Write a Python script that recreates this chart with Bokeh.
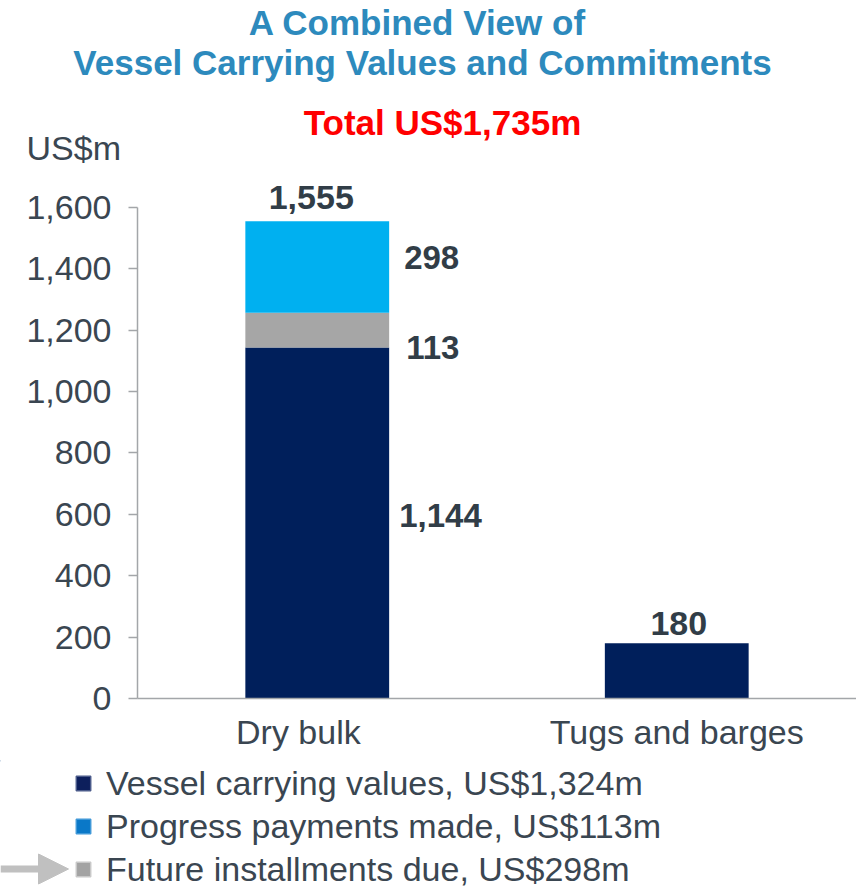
from bokeh.plotting import figure
from bokeh.layouts import column
from bokeh.models import (ColumnDataSource, FactorRange, Range1d, FixedTicker,
                          Legend, LegendItem, Arrow, NormalHead, NumeralTickFormatter,
                          CustomJSTickFormatter)
from bokeh.transform import dodge
from bokeh.core.properties import value
from bokeh.embed import file_html
from bokeh.resources import INLINE

# ---------------- data ----------------
categories = ["Dry bulk", "Tugs and barges"]
carrying_values = [1144, 180]
progress_payments = [113, 0]
future_installments = [298, 0]
y_ticks = [0, 200, 400, 600, 800, 1000, 1200, 1400, 1600]
legend_labels = ["Vessel carrying values, US$1,324m",
                 "Progress payments made, US$113m",
                 "Future installments due, US$298m"]
title_lines = ["A Combined View of", "Vessel Carrying Values and Commitments"]
subtitle = "Total US$1,735m"
unit_label = "US$m"

# ---------------- styles ----------------
FONT = "Liberation Sans"
NAVY = "#001F5B"
LIGHT_BLUE = "#00B0F0"
GRAY = "#A6A6A6"
TEXT = "#3A4651"
LABEL = "#313D47"
TITLE_BLUE = "#2D8ABD"
AXIS = "#A3A6A9"
W = 856


def bare(height):
    f = figure(width=W, height=height, x_range=Range1d(0, W), y_range=Range1d(height, 0),
               output_backend="svg", toolbar_location=None,
               x_axis_location=None, y_axis_location=None,
               min_border=0, min_border_left=0, min_border_right=0,
               min_border_top=0, min_border_bottom=0, frame_align=False)
    f.outline_line_color = None
    f.xgrid.visible = False
    f.ygrid.visible = False
    return f


# ---------------- title block ----------------
TH = 175
pt = bare(TH)
pt.text(x=[417], y=[21.5], text=[title_lines[0]], text_align="center", text_baseline="middle",
        text_font=value(FONT), text_font_size="35px", text_font_style="bold", text_color=TITLE_BLUE)
pt.text(x=[422], y=[61.5], text=[title_lines[1]], text_align="center", text_baseline="middle",
        text_font=value(FONT), text_font_size="35px", text_font_style="bold", text_color=TITLE_BLUE)
pt.text(x=[442], y=[122], text=[subtitle], text_align="center", text_baseline="middle",
        text_font=value(FONT), text_font_size="35px", text_font_style="bold", text_color="#FF0000")
pt.text(x=[26], y=[147.5], text=[unit_label], text_align="left", text_baseline="middle",
        text_font=value(FONT), text_font_size="34px", text_color=TEXT)

# ---------------- main chart ----------------
totals = [c + p + f for c, p, f in zip(carrying_values, progress_payments, future_installments)]
src = ColumnDataSource(dict(cat=categories, carrying=carrying_values,
                            progress=progress_payments, future=future_installments))

MH = 585
p = figure(width=W, height=MH, x_range=FactorRange(*categories),
           y_range=Range1d(0, 1704), output_backend="svg", toolbar_location=None,
           min_border_left=137, min_border_right=0, min_border_top=0, min_border_bottom=62,
           frame_align=False)
p.outline_line_color = None
p.xgrid.visible = False
p.ygrid.visible = False

p.vbar_stack(["carrying", "progress", "future"], x="cat", width=0.4,
             color=[NAVY, GRAY, LIGHT_BLUE], line_color=None, source=src)

ya = p.yaxis[0]
ya.ticker = FixedTicker(ticks=y_ticks)
ya.bounds = (0, 1600)
ya.formatter = NumeralTickFormatter(format="0,0")
ya.major_label_text_font = FONT
ya.major_label_text_font_size = "34px"
ya.major_label_text_color = TEXT
ya.axis_line_color = AXIS
ya.axis_line_width = 1.5
ya.major_tick_line_color = AXIS
ya.major_tick_line_width = 1.5
ya.major_tick_in = 0
ya.major_tick_out = 9
ya.minor_tick_line_color = None
ya.major_label_standoff = 17

xa = p.xaxis[0]
xa.major_label_text_font = FONT
xa.major_label_text_font_size = "34px"
xa.major_label_text_color = TEXT
xa.axis_line_color = AXIS
xa.axis_line_width = 1.5
xa.major_tick_line_color = None
xa.major_tick_in = 0
xa.major_tick_out = 0
xa.major_label_standoff = 14
# trailing padding shifts the first category label left, as in the original slide
xa.formatter = CustomJSTickFormatter(
    args=dict(first=categories[0]),
    code="return tick == first ? tick + '\\u00a0\\u00a0\\u00a0\\u00a0\\u200b' : tick;")

tot_src = ColumnDataSource(dict(cat=categories, y=totals, txt=[f"{t:,}" for t in totals],
                                xo=[-6, 2], yo=[-24, -20]))
p.text(x="cat", y="y", text="txt", source=tot_src, text_align="center",
       text_baseline="middle", x_offset="xo", y_offset="yo", text_font=value(FONT),
       text_font_size="34px", text_font_style="bold", text_color=LABEL)

seg_vals = [carrying_values[0], progress_payments[0], future_installments[0]]
bottoms = [0, carrying_values[0], carrying_values[0] + progress_payments[0]]
seg_src = ColumnDataSource(dict(
    cat=[categories[0]] * 3,
    y=[b + v / 2 for b, v in zip(bottoms, seg_vals)],
    txt=[f"{v:,}" for v in seg_vals],
    xo=[10, 17, 15],
    yo=[-7, 17, -9],
))
p.text(x=dodge("cat", 0.2, range=p.x_range), y="y", text="txt", source=seg_src,
       text_align="left", text_baseline="middle", x_offset="xo", y_offset="yo",
       text_font=value(FONT), text_font_size="33px", text_font_style="bold",
       text_color=LABEL)

# ---------------- legend block ----------------
LH = 891 - TH - MH
pl = bare(LH)
swatch_fill = ["#0D1F5C", "#0A78C8", "#A3A3A3"]
swatch_line = ["#4A5A8A", "#3F98D8", "#C8C8C8"]
items = []
for lab, fc, lc in zip(legend_labels, swatch_fill, swatch_line):
    # swatch-only renderer, kept outside the visible range
    r = pl.vbar(x=[-100], top=[0], bottom=[0], width=1, fill_color=fc, line_color=lc,
                line_width=1.5)
    items.append(LegendItem(label=lab, renderers=[r]))
leg = Legend(items=items, location=(74, 1), orientation="vertical",
             glyph_width=18, glyph_height=18, label_height=42, spacing=1,
             label_standoff=14, padding=0, margin=0, border_line_color=None,
             background_fill_alpha=0, label_text_font=FONT,
             label_text_font_size="34px", label_text_color=TEXT)
pl.add_layout(leg, "center")
pl.add_layout(Arrow(x_start=0, y_start=108.5, x_end=68, y_end=108.5,
                    line_color="#C0C0C0", line_width=7,
                    end=NormalHead(size=30, fill_color="#C0C0C0", line_color="#C0C0C0")))

layout = column(pt, p, pl, spacing=0)
open("out.html", "w").write(file_html(layout, INLINE))
